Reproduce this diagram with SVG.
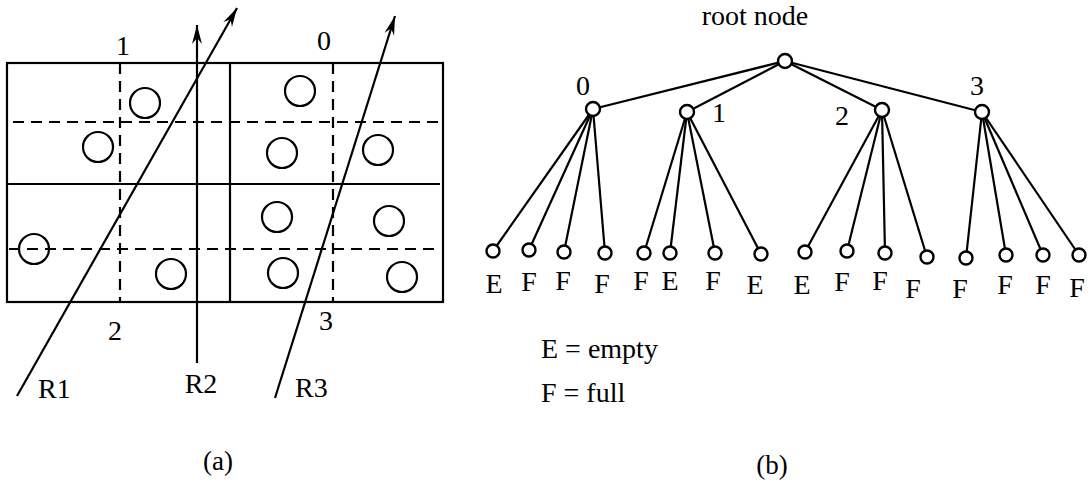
<svg xmlns="http://www.w3.org/2000/svg" width="1092" height="482" viewBox="0 0 1092 482">
  <style>
    .ln { stroke: #000; stroke-width: 2.2; fill: none; }
    .dash { stroke: #000; stroke-width: 2.2; fill: none; stroke-dasharray: 11 7; }
    .nd { stroke: #000; stroke-width: 2.4; fill: #fff; }
    text { font-family: "Liberation Serif", "Times New Roman", serif; font-size: 28px; fill: #000; }
    .c { text-anchor: middle; }
  </style>
  <defs>
    <marker id="arrow" markerUnits="userSpaceOnUse" markerWidth="24" markerHeight="14" viewBox="-20 -7 22 14" refX="0" refY="0" orient="auto">
      <path d="M0,0 L-19,-5 L-13,0 L-19,5 Z" fill="#000"/>
    </marker>
  </defs>

  <!-- (a) spatial subdivision with rays -->
  <g id="grid">
    <rect x="7" y="63" width="436" height="239" class="ln"/>
    <line x1="7" y1="184" x2="440" y2="184" class="ln"/>
    <line x1="230" y1="63" x2="230" y2="302" class="ln"/>
    <line x1="120" y1="63" x2="120" y2="302" class="dash"/>
    <line x1="333" y1="63" x2="333" y2="302" class="dash"/>
    <line x1="13" y1="122" x2="440" y2="122" class="dash"/>
    <line x1="9" y1="249" x2="440" y2="249" class="dash"/>
  </g>

  <g id="objects">
    <circle cx="145" cy="103" r="15" class="ln"/>
    <circle cx="98" cy="147" r="15" class="ln"/>
    <circle cx="300" cy="91" r="15" class="ln"/>
    <circle cx="282" cy="153" r="15" class="ln"/>
    <circle cx="378" cy="150" r="15" class="ln"/>
    <circle cx="277" cy="217" r="15" class="ln"/>
    <circle cx="389" cy="221" r="15" class="ln"/>
    <circle cx="34" cy="249" r="15" class="ln"/>
    <circle cx="171" cy="274" r="15" class="ln"/>
    <circle cx="283" cy="273" r="15" class="ln"/>
    <circle cx="402" cy="277" r="15" class="ln"/>
  </g>

  <g id="rays">
    <line x1="17" y1="396" x2="237" y2="8" class="ln" marker-end="url(#arrow)"/>
    <line x1="197" y1="363" x2="197" y2="25" class="ln" marker-end="url(#arrow)"/>
    <line x1="275" y1="398" x2="395" y2="16" class="ln" marker-end="url(#arrow)"/>
  </g>

  <g id="labels-a">
    <text x="123" y="55" class="c">1</text>
    <text x="324" y="50" class="c">0</text>
    <text x="115" y="340" class="c">2</text>
    <text x="326" y="330" class="c">3</text>
    <text x="38" y="398">R1</text>
    <text x="201" y="393" class="c">R2</text>
    <text x="295" y="397">R3</text>
    <text x="218" y="470" class="c" style="font-size:27px">(a)</text>
  </g>

  <!-- (b) occupancy tree -->
  <g id="connectors">
    <line x1="785" y1="61" x2="593" y2="109" class="ln"/>
    <line x1="785" y1="61" x2="687" y2="112" class="ln"/>
    <line x1="785" y1="61" x2="882" y2="110" class="ln"/>
    <line x1="785" y1="61" x2="982" y2="112" class="ln"/>

    <line x1="593" y1="109" x2="493" y2="251" class="ln"/>
    <line x1="593" y1="109" x2="529" y2="250" class="ln"/>
    <line x1="593" y1="109" x2="564" y2="252" class="ln"/>
    <line x1="593" y1="109" x2="605" y2="253" class="ln"/>

    <line x1="687" y1="112" x2="644" y2="253" class="ln"/>
    <line x1="687" y1="112" x2="670" y2="253" class="ln"/>
    <line x1="687" y1="112" x2="715" y2="253" class="ln"/>
    <line x1="687" y1="112" x2="761" y2="254" class="ln"/>

    <line x1="882" y1="110" x2="805" y2="252" class="ln"/>
    <line x1="882" y1="110" x2="847" y2="251" class="ln"/>
    <line x1="882" y1="110" x2="885" y2="253" class="ln"/>
    <line x1="882" y1="110" x2="927" y2="257" class="ln"/>

    <line x1="982" y1="112" x2="966" y2="258" class="ln"/>
    <line x1="982" y1="112" x2="1006" y2="255" class="ln"/>
    <line x1="982" y1="112" x2="1043" y2="255" class="ln"/>
    <line x1="982" y1="112" x2="1079" y2="255" class="ln"/>
  </g>

  <g id="root">
    <circle cx="785" cy="61" r="7" class="nd"/>
    <text x="755" y="25" class="c">root node</text>
  </g>
  <g id="node-0">
    <circle cx="593" cy="109" r="7" class="nd"/>
    <text x="583" y="95" class="c">0</text>
  </g>
  <g id="node-1">
    <circle cx="687" cy="112" r="7" class="nd"/>
    <text x="719" y="122" class="c">1</text>
  </g>
  <g id="node-2">
    <circle cx="882" cy="110" r="7" class="nd"/>
    <text x="842" y="125" class="c">2</text>
  </g>
  <g id="node-3">
    <circle cx="982" cy="112" r="7" class="nd"/>
    <text x="977" y="95" class="c">3</text>
  </g>

  <g id="leaf-0-0"><circle cx="493" cy="251" r="6.5" class="nd"/><text x="494" y="293" class="c">E</text></g>
  <g id="leaf-0-1"><circle cx="529" cy="250" r="6.5" class="nd"/><text x="529" y="291" class="c">F</text></g>
  <g id="leaf-0-2"><circle cx="564" cy="252" r="6.5" class="nd"/><text x="563" y="290" class="c">F</text></g>
  <g id="leaf-0-3"><circle cx="605" cy="253" r="6.5" class="nd"/><text x="602" y="293" class="c">F</text></g>

  <g id="leaf-1-0"><circle cx="644" cy="253" r="6.5" class="nd"/><text x="641" y="290" class="c">F</text></g>
  <g id="leaf-1-1"><circle cx="670" cy="253" r="6.5" class="nd"/><text x="670" y="290" class="c">E</text></g>
  <g id="leaf-1-2"><circle cx="715" cy="253" r="6.5" class="nd"/><text x="713" y="290" class="c">F</text></g>
  <g id="leaf-1-3"><circle cx="761" cy="254" r="6.5" class="nd"/><text x="755" y="294" class="c">E</text></g>

  <g id="leaf-2-0"><circle cx="805" cy="252" r="6.5" class="nd"/><text x="802" y="294" class="c">E</text></g>
  <g id="leaf-2-1"><circle cx="847" cy="251" r="6.5" class="nd"/><text x="842" y="291" class="c">F</text></g>
  <g id="leaf-2-2"><circle cx="885" cy="253" r="6.5" class="nd"/><text x="880" y="290" class="c">F</text></g>
  <g id="leaf-2-3"><circle cx="927" cy="257" r="6.5" class="nd"/><text x="913" y="298" class="c">F</text></g>

  <g id="leaf-3-0"><circle cx="966" cy="258" r="6.5" class="nd"/><text x="960" y="298" class="c">F</text></g>
  <g id="leaf-3-1"><circle cx="1006" cy="255" r="6.5" class="nd"/><text x="1005" y="294" class="c">F</text></g>
  <g id="leaf-3-2"><circle cx="1043" cy="255" r="6.5" class="nd"/><text x="1043" y="294" class="c">F</text></g>
  <g id="leaf-3-3"><circle cx="1079" cy="255" r="6.5" class="nd"/><text x="1077" y="297" class="c">F</text></g>

  <g id="legend">
    <text x="541" y="358">E = empty</text>
    <text x="541" y="402">F = full</text>
    <text x="772" y="474" class="c" style="font-size:27px">(b)</text>
  </g>
</svg>
